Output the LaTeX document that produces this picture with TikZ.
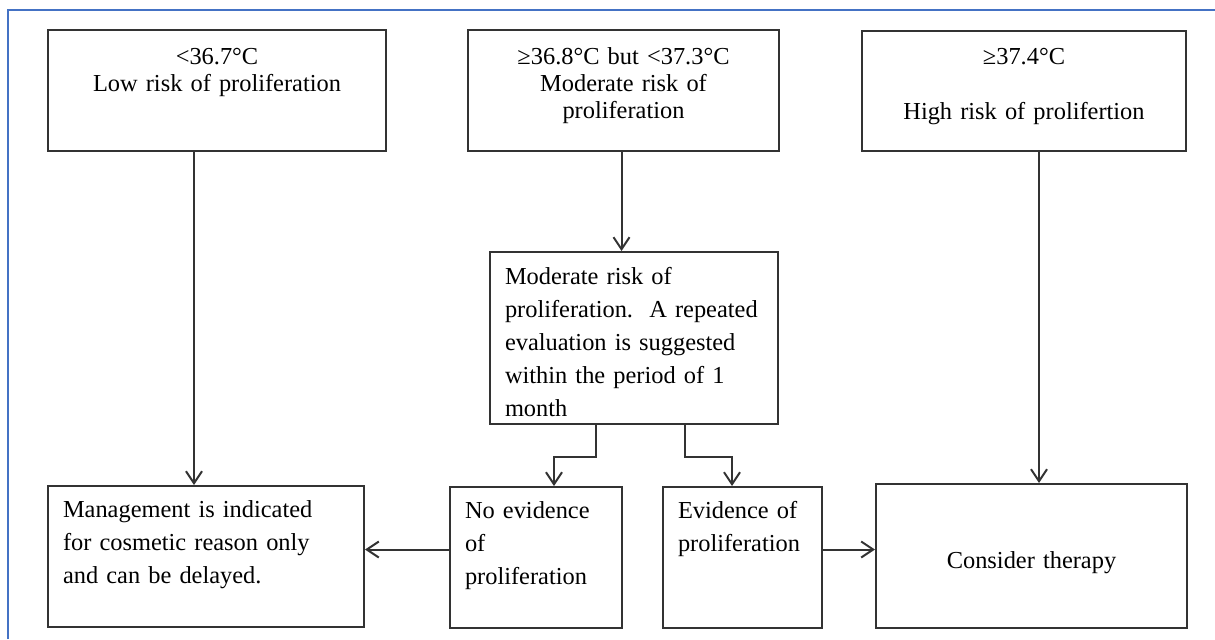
\documentclass[tikz,border=0pt]{standalone}
\usepackage{fontspec}
\setmainfont{Liberation Serif}
\usepackage{xcolor}
\usetikzlibrary{arrows.meta}

\definecolor{frameblue}{RGB}{68,114,196}
\definecolor{linegray}{RGB}{51,51,51}

\begin{document}
\begin{tikzpicture}[x=0.5pt, y=-0.5pt,
    box/.style={draw=linegray, line width=1pt, inner xsep=7.5pt, inner ysep=0pt,
        anchor=north west, font=\fontsize{12.2pt}{16.5pt}\selectfont\frenchspacing},
    topbox/.style={box, align=center, font=\fontsize{12.2pt}{13.5pt}\selectfont},
    arr/.style={draw=linegray, line width=1pt, -{Straight Barb[length=6pt, width=8pt]}}]
                \useasboundingbox (0,0) rectangle (1215,639);

                % Frame
                \draw[frameblue, line width=1pt] (8,639) -- (8,10) -- (1215,10);

                % Temperature classes
                \node[topbox, text width=154pt, text height=17pt, text depth=43.5pt] (low) at (47,29) {<36.7°C\\Low risk of proliferation};
                \node[topbox, text width=140.5pt, text height=17pt, text depth=43.5pt] (moder) at (467,29) {≥36.8°C but <37.3°C\\Moderate risk of\\proliferation};
                \node[topbox, text width=147pt, text height=16.5pt, text depth=43.5pt] (high) at (861,30) {≥37.4°C\\[14pt]High risk of prolifertion};

                % Re-evaluation
                \node[box, align=left, text width=129pt, text height=16pt, text depth=70pt] (mid) at (489,251) {Moderate risk of\\proliferation.\ \ A repeated\\evaluation is suggested\\within the period of 1\\month};

                % Outcomes
                \node[box, align=left, text width=143pt, text height=15.5pt, text depth=55pt] (mgmt) at (47,485) {Management is indicated\\for cosmetic reason only\\and can be delayed.};
                \node[box, align=left, text width=71pt, text height=15.5pt, text depth=55pt] (noev) at (449,486) {No evidence\\of\\proliferation};
                \node[box, align=left, text width=64.5pt, text height=15.5pt, text depth=55pt] (ev) at (662,486) {Evidence of\\proliferation};
                \node[box, align=center, text width=140.5pt, text height=42pt, text depth=30pt] (ther) at (875,483) {Consider therapy};

                % Downward connections
                \draw[arr] ([xshift=-11.5pt]low.south) -- ([xshift=-11.5pt]low.south |- mgmt.north);
                \draw[arr] ([xshift=-1pt]moder.south) -- ([xshift=-1pt]moder.south |- mid.north);
                \draw[arr] ([xshift=7.5pt]high.south) -- ([xshift=7.5pt]high.south |- ther.north);
                \draw[arr] ([xshift=-19pt]mid.south) -- ++(0,-16pt) -| ([xshift=9pt]noev.north);
                \draw[arr] ([xshift=25.5pt]mid.south) -- ++(0,-16pt) -| ([xshift=-5.25pt]ev.north);

                % Side connections
                \draw[arr] ([yshift=4pt]noev.west) -- ([yshift=4pt]noev.west -| mgmt.east);
                \draw[arr] ([yshift=4pt]ev.east) -- ([yshift=4pt]ev.east -| ther.west);
            \end{tikzpicture}
\end{document}
